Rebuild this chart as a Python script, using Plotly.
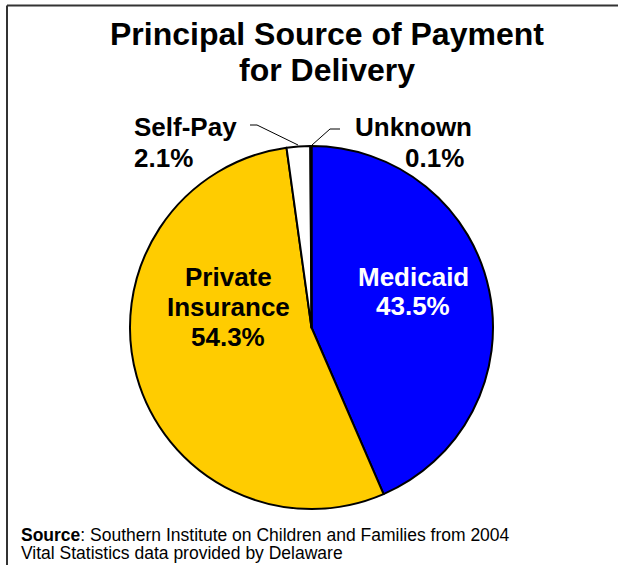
import plotly.graph_objects as go

W, H = 618, 565

categories = ["Medicaid", "Private Insurance", "Self-Pay", "Unknown"]
values = [43.5, 54.3, 2.1, 0.1]
colors = ["#0000FF", "#FFCC00", "#FFFFFF", "#FFFFFF"]
title_lines = ["Principal Source of Payment", "for Delivery"]
source_lines = ["<b>Source</b>: Southern Institute on Children and Families from 2004",
                "Vital Statistics data provided by Delaware"]

FONT = "Liberation Sans, Arial, sans-serif"

def px(x):
    return x / W

def py(y):
    return 1 - y / H

cx, cy, r = 311.5, 327.5, 181.5

fig = go.Figure()
fig.add_trace(go.Pie(
    labels=categories,
    values=values,
    sort=False,
    direction="clockwise",
    rotation=0,
    marker=dict(colors=colors, line=dict(color="#000000", width=2)),
    textinfo="none",
    hoverinfo="label+percent",
    showlegend=False,
    domain=dict(x=[px(cx - r), px(cx + r)], y=[py(cy + r), py(cy - r)]),
))

ann = []
def add_text(text, x, y, size, color="#000000", xanchor="center", bold=True):
    ann.append(dict(
        text=f"<b>{text}</b>" if bold else text,
        x=px(x), y=py(y), xref="paper", yref="paper",
        xanchor=xanchor, yanchor="middle", showarrow=False,
        font=dict(family=FONT, size=size, color=color),
    ))

# Title
add_text(title_lines[0], 327, 34, 32)
add_text(title_lines[1], 327, 70, 32)

def pct(v):
    return f"{v:.1f}%"

# Inside labels
add_text(categories[0], 413, 277, 26, color="#FFFFFF")
add_text(pct(values[0]), 413, 306, 26, color="#FFFFFF")
add_text("Private", 228, 277, 26)
add_text("Insurance", 228, 307, 26)
add_text(pct(values[1]), 228, 337, 26)

# Outside labels
add_text(categories[2], 132, 127, 26, xanchor="left")
add_text(pct(values[2]), 132, 158, 26, xanchor="left")
add_text(categories[3], 353, 127, 26, xanchor="left")
add_text(pct(values[3]), 403, 158, 26, xanchor="left")

# Source
add_text(source_lines[0], 19, 535, 17.5, xanchor="left", bold=False)
add_text(source_lines[1], 19, 553, 17.5, xanchor="left", bold=False)

shapes = []
# leader lines
for pts in ([(250, 125), (257, 125), (298, 145)], [(340, 129), (330, 129), (312, 145)]):
    path = "M " + " L ".join(f"{px(x)} {py(y)}" for x, y in pts)
    shapes.append(dict(type="path", path=path, xref="paper", yref="paper",
                       line=dict(color="#000000", width=1)))
# frame (top and left)
shapes.append(dict(type="line", xref="paper", yref="paper",
                   x0=px(7), y0=py(5.5), x1=1.01, y1=py(5.5),
                   line=dict(color="#333333", width=2)))
shapes.append(dict(type="line", xref="paper", yref="paper",
                   x0=px(7), y0=py(5.5), x1=px(7), y1=-0.01,
                   line=dict(color="#333333", width=2)))

fig.update_layout(
    width=W, height=H,
    margin=dict(l=0, r=0, t=0, b=0),
    paper_bgcolor="#FFFFFF",
    plot_bgcolor="#FFFFFF",
    annotations=ann,
    shapes=shapes,
)

fig.write_html("out.html",
               config={"displayModeBar": False},
               post_script="document.body.style.margin='0';document.body.style.overflow='hidden';")
